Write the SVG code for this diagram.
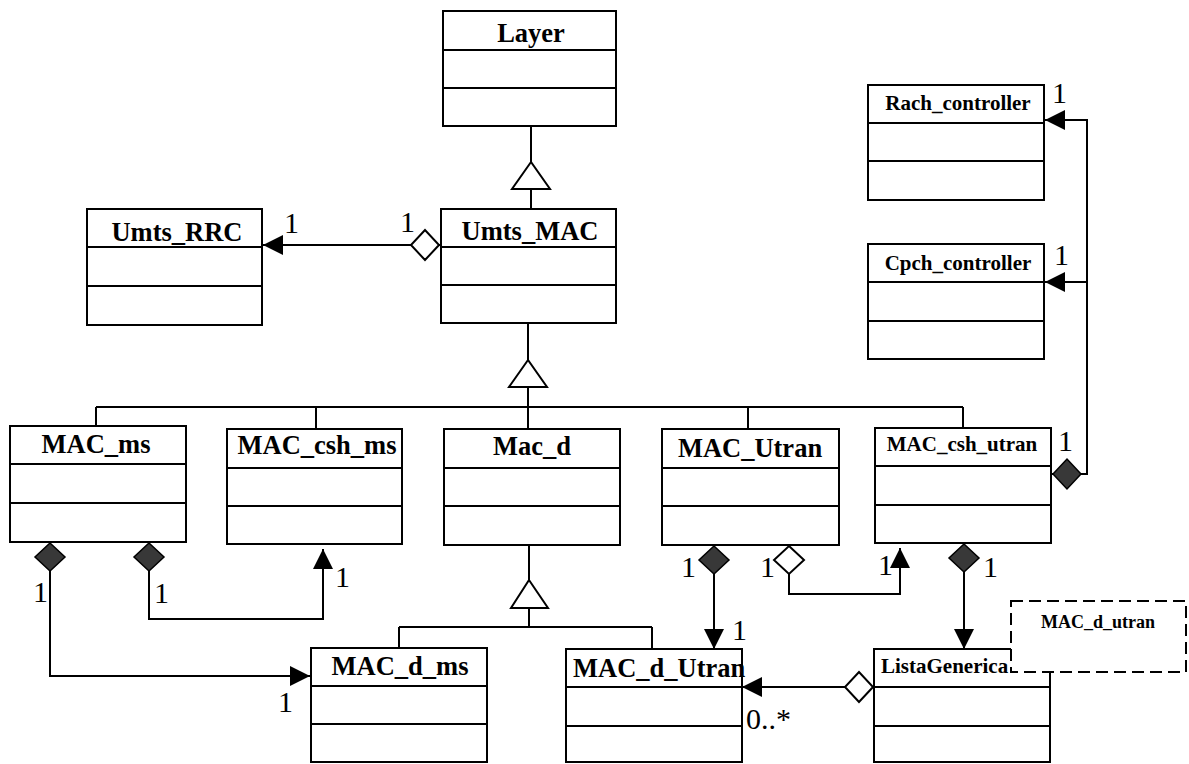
<svg xmlns="http://www.w3.org/2000/svg" width="1189" height="764" viewBox="0 0 1189 764">
  <style>
    .box { fill: #fff; stroke: #000; stroke-width: 2; }
    .sep { stroke: #000; stroke-width: 2; fill: none; }
    .ln { stroke: #000; stroke-width: 2; fill: none; }
    .gen { fill: #fff; stroke: #000; stroke-width: 2; }
    .tmpl { fill: #fff; stroke: #000; stroke-width: 2; stroke-dasharray: 12 6; }
    .title { font-family: "Liberation Serif", "Times New Roman", serif; font-weight: bold; font-size: 26.5px; text-anchor: middle; fill: #000; }
    .small { font-size: 21px; }
    .tiny { font-size: 18px; }
    .left { text-anchor: start; }
    .mult { font-family: "Liberation Serif", "Times New Roman", serif; font-size: 30px; fill: #000; }
  </style>
  <defs>
    <marker id="arrow" viewBox="0 0 20 20" refX="20" refY="10" markerWidth="20" markerHeight="20" orient="auto" markerUnits="userSpaceOnUse">
      <path d="M0,0 L20,10 L0,20 Z" fill="#000"/>
    </marker>
    <marker id="agg" viewBox="0 0 30 32" refX="0" refY="16" markerWidth="30" markerHeight="32" orient="auto" markerUnits="userSpaceOnUse" overflow="visible">
      <path d="M1,16 L15,1 L29,16 L15,31 Z" fill="#fff" stroke="#000" stroke-width="2"/>
    </marker>
    <marker id="comp" viewBox="0 0 30 32" refX="0" refY="16" markerWidth="30" markerHeight="32" orient="auto" markerUnits="userSpaceOnUse" overflow="visible">
      <path d="M1,16 L15,1 L29,16 L15,31 Z" fill="#383838" stroke="#000" stroke-width="1.5"/>
    </marker>
  </defs>

  <!-- connectors: generalizations and associations -->
  <g id="connectors">
    <!-- Umts_MAC extends Layer -->
    <path class="ln" d="M531,126 V162 M531,189 V209"/>
    <polygon class="gen" points="531,162 512,189 550,189"/>

    <!-- MAC subclasses extend Umts_MAC -->
    <path class="ln" d="M528,323 V360 M528,387 V407 M96,407 H963 M96,407 V426 M316,407 V429 M528,407 V429 M748,407 V429 M963,407 V428"/>
    <polygon class="gen" points="528,360 509,387 547,387"/>

    <!-- MAC_d_ms and MAC_d_Utran extend Mac_d -->
    <path class="ln" d="M529,545 V580 M529,608 V627 M399,627 H652 M399,627 V648 M652,627 V649"/>
    <polygon class="gen" points="529,580 511,608 548,608"/>

    <!-- Umts_MAC to Umts_RRC -->
    <path class="ln" d="M440,245 H263" marker-start="url(#agg)" marker-end="url(#arrow)"/>

    <!-- MAC_csh_utran to Rach_controller and Cpch_controller -->
    <path class="ln" d="M1052,474 H1087 V120 H1045" marker-start="url(#comp)" marker-end="url(#arrow)"/>
    <path class="ln" d="M1087,282 H1045" marker-end="url(#arrow)"/>

    <!-- MAC_ms to MAC_d_ms and MAC_csh_ms -->
    <path class="ln" d="M50,542 V676 H310" marker-start="url(#comp)" marker-end="url(#arrow)"/>
    <path class="ln" d="M149,542 V619 H323 V549" marker-start="url(#comp)" marker-end="url(#arrow)"/>

    <!-- MAC_Utran to MAC_d_Utran and MAC_csh_utran -->
    <path class="ln" d="M714,545 V649" marker-start="url(#comp)" marker-end="url(#arrow)"/>
    <path class="ln" d="M789,545 V594 H900 V548" marker-start="url(#agg)" marker-end="url(#arrow)"/>

    <!-- MAC_csh_utran to ListaGenerica -->
    <path class="ln" d="M964,543 V649" marker-start="url(#comp)" marker-end="url(#arrow)"/>

    <!-- ListaGenerica to MAC_d_Utran -->
    <path class="ln" d="M874,687 H742" marker-start="url(#agg)" marker-end="url(#arrow)"/>

    <!-- multiplicities -->
    <text class="mult" x="284" y="233">1</text>
    <text class="mult" x="400" y="232">1</text>
    <text class="mult" x="1052" y="103">1</text>
    <text class="mult" x="1054" y="265">1</text>
    <text class="mult" x="1058" y="451">1</text>
    <text class="mult" x="33" y="602">1</text>
    <text class="mult" x="154" y="603">1</text>
    <text class="mult" x="335" y="587">1</text>
    <text class="mult" x="278" y="712">1</text>
    <text class="mult" x="681" y="577">1</text>
    <text class="mult" x="760" y="577">1</text>
    <text class="mult" x="878" y="575">1</text>
    <text class="mult" x="983" y="577">1</text>
    <text class="mult" x="732" y="640">1</text>
    <text class="mult" x="746" y="729">0..*</text>
  </g>

  <g id="Layer">
    <rect class="box" x="443" y="11" width="173" height="115"/>
    <path class="sep" d="M443,50 H616 M443,88 H616"/>
    <text class="title" x="531" y="42">Layer</text>
  </g>

  <g id="Umts_MAC">
    <rect class="box" x="441" y="209" width="175" height="114"/>
    <path class="sep" d="M441,247 H616 M441,285 H616"/>
    <text class="title" x="530" y="240">Umts_MAC</text>
  </g>

  <g id="Umts_RRC">
    <rect class="box" x="87" y="209" width="175" height="116"/>
    <path class="sep" d="M87,247 H262 M87,286 H262"/>
    <text class="title" x="177" y="241">Umts_RRC</text>
  </g>

  <g id="Rach_controller">
    <rect class="box" x="868" y="85" width="176" height="115"/>
    <path class="sep" d="M868,123 H1044 M868,161 H1044"/>
    <text class="title small" x="958" y="110">Rach_controller</text>
  </g>

  <g id="Cpch_controller">
    <rect class="box" x="868" y="244" width="176" height="115"/>
    <path class="sep" d="M868,282 H1044 M868,321 H1044"/>
    <text class="title small" x="958" y="270">Cpch_controller</text>
  </g>

  <g id="MAC_ms">
    <rect class="box" x="10" y="426" width="176" height="116"/>
    <path class="sep" d="M10,464 H186 M10,503 H186"/>
    <text class="title" x="96" y="453">MAC_ms</text>
  </g>

  <g id="MAC_csh_ms">
    <rect class="box" x="227" y="429" width="175" height="115"/>
    <path class="sep" d="M227,468 H402 M227,506 H402"/>
    <text class="title" x="317" y="454">MAC_csh_ms</text>
  </g>

  <g id="Mac_d">
    <rect class="box" x="444" y="429" width="176" height="116"/>
    <path class="sep" d="M444,468 H620 M444,506 H620"/>
    <text class="title" x="532" y="455">Mac_d</text>
  </g>

  <g id="MAC_Utran">
    <rect class="box" x="662" y="429" width="177" height="116"/>
    <path class="sep" d="M662,468 H839 M662,506 H839"/>
    <text class="title" x="750" y="457">MAC_Utran</text>
  </g>

  <g id="MAC_csh_utran">
    <rect class="box" x="875" y="428" width="176" height="115"/>
    <path class="sep" d="M875,466 H1051 M875,505 H1051"/>
    <text class="title small" x="962" y="451">MAC_csh_utran</text>
  </g>

  <g id="MAC_d_ms">
    <rect class="box" x="311" y="648" width="176" height="114"/>
    <path class="sep" d="M311,686 H487 M311,724 H487"/>
    <text class="title" x="400" y="675">MAC_d_ms</text>
  </g>

  <g id="MAC_d_Utran">
    <rect class="box" x="566" y="649" width="176" height="113"/>
    <path class="sep" d="M566,687 H742 M566,726 H742"/>
    <text class="title left" x="573" y="677">MAC_d_Utran</text>
  </g>

  <g id="ListaGenerica">
    <rect class="box" x="874" y="649" width="176" height="113"/>
    <path class="sep" d="M874,687 H1050 M874,726 H1050"/>
    <text class="title small left" x="881" y="673">ListaGenerica</text>
    <!-- template parameter box -->
    <rect class="tmpl" x="1011" y="601" width="175" height="71"/>
    <text class="title tiny" x="1098" y="628">MAC_d_utran</text>
  </g>
</svg>
